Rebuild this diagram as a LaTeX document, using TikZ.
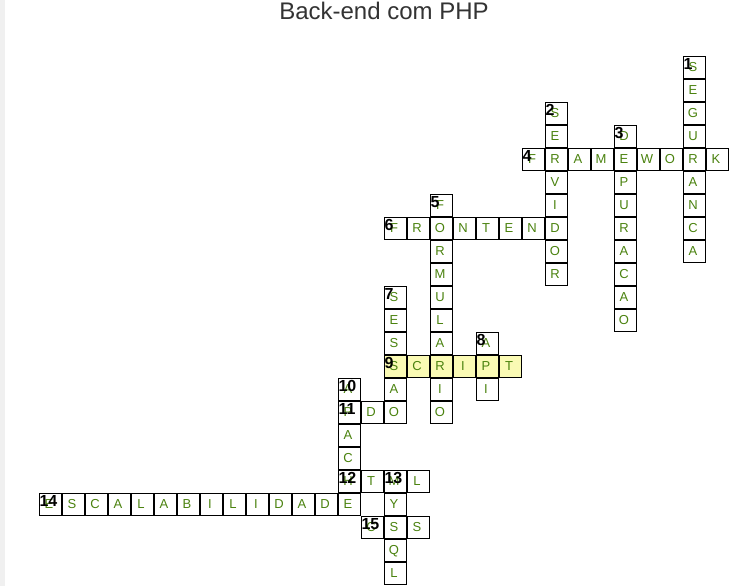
\documentclass[tikz,border=0pt]{standalone}
\usepackage{fontspec}
\setmainfont{Liberation Sans}
\definecolor{lettergreen}{RGB}{74,130,14}
\definecolor{hiyellow}{RGB}{250,250,180}
\definecolor{titlegray}{RGB}{51,51,51}
\definecolor{stripgray}{RGB}{240,240,240}
\tikzset{
  cell/.style={draw=black, line width=1.3pt, fill=white, minimum size=21.7pt, inner sep=0pt,
    text=lettergreen, font=\fontsize{13}{14}\selectfont, text height=9.3pt, text depth=0pt},
  hicell/.style={cell, fill=hiyellow},
  clue/.style={anchor=base west, inner sep=0pt, font=\fontsize{16}{17}\selectfont\bfseries, text=black},
  title/.style={anchor=base, inner sep=0pt, font=\fontsize{24}{26}\selectfont, text=titlegray}
}
\newcommand\putword[5]{% style, col, row, dir, letters
  \foreach \l [count=\i from 0] in {#5} {
    \ifx h#4\relax
      \pgfmathtruncatemacro\cc{#2+\i}\pgfmathtruncatemacro\rr{#3}%
    \else
      \pgfmathtruncatemacro\cc{#2}\pgfmathtruncatemacro\rr{#3+\i}%
    \fi
    \node[#1] (c\cc-\rr) at ({39+23*\cc+11.5},{56+23*\rr+11.5}) {\hspace*{-3pt}\raisebox{1pt}{\l}};
  }}
\newcommand\putclue[3]{% number, col, row
  \node[clue] (n#1) at ({39+23*#2+0.3},{56+23*#3+13.5}) {#1};}
\begin{document}
\begin{tikzpicture}[x=1pt,y=-1pt]
\useasboundingbox (0,0) rectangle (734,586);
\fill[stripgray] (0,0) rectangle (5,586);
\node[title] (title) at (384,20) {Back-end com PHP};
\putword{cell}{28}{0}{v}{S,E,G,U,R,A,N,C,A}
\putword{cell}{22}{2}{v}{S,E,R,V,I,D,O,R}
\putword{cell}{25}{3}{v}{D,E,P,U,R,A,C,A,O}
\putword{cell}{21}{4}{h}{F,R,A,M,E,W,O,R,K}
\putword{cell}{17}{6}{v}{F,O,R,M,U,L,A,R,I,O}
\putword{cell}{15}{7}{h}{F,R,O,N,T,E,N,D}
\putword{cell}{15}{10}{v}{S,E,S,S,A,O}
\putword{cell}{19}{12}{v}{A,P,I}
\putword{cell}{13}{14}{v}{A,P,A,C,H,E}
\putword{cell}{13}{15}{h}{P,D,O}
\putword{cell}{13}{18}{h}{H,T,M,L}
\putword{cell}{15}{18}{v}{M,Y,S,Q,L}
\putword{cell}{0}{19}{h}{E,S,C,A,L,A,B,I,L,I,D,A,D,E}
\putword{cell}{14}{20}{h}{C,S,S}
\putword{hicell}{15}{13}{h}{S,C,R,I,P,T}
\putclue{1}{28}{0}
\putclue{2}{22}{2}
\putclue{3}{25}{3}
\putclue{4}{21}{4}
\putclue{5}{17}{6}
\putclue{6}{15}{7}
\putclue{7}{15}{10}
\putclue{8}{19}{12}
\putclue{9}{15}{13}
\putclue{10}{13}{14}
\putclue{11}{13}{15}
\putclue{12}{13}{18}
\putclue{13}{15}{18}
\putclue{14}{0}{19}
\putclue{15}{14}{20}
\end{tikzpicture}
\end{document}
